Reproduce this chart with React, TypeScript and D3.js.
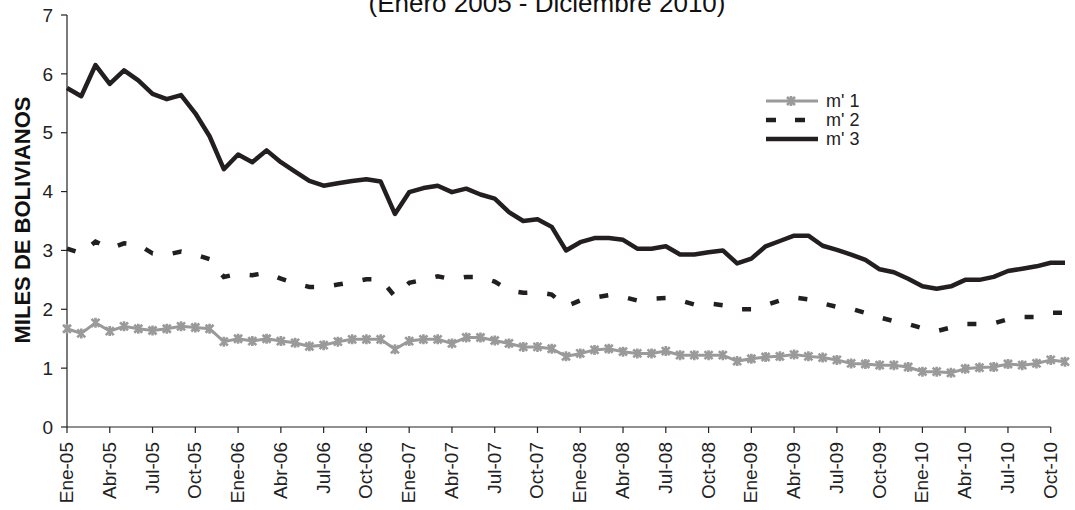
import React from "react";
import * as d3 from "d3";

const monthNames = ["Ene", "Feb", "Mar", "Abr", "May", "Jun", "Jul", "Ago", "Sep", "Oct", "Nov", "Dic"];
const years = ["05", "06", "07", "08", "09", "10"];
const categories = years.flatMap((y) => monthNames.map((m) => `${m}-${y}`)).slice(0, 71);

const tickLabels = [
  "Ene-05", "Abr-05", "Jul-05", "Oct-05", "Ene-06", "Abr-06", "Jul-06", "Oct-06",
  "Ene-07", "Abr-07", "Jul-07", "Oct-07", "Ene-08", "Abr-08", "Jul-08", "Oct-08",
  "Ene-09", "Abr-09", "Jul-09", "Oct-09", "Ene-10", "Abr-10", "Jul-10", "Oct-10",
];

const yTicks = [0, 1, 2, 3, 4, 5, 6, 7];

const m1 = [
  1.67, 1.59, 1.77, 1.63, 1.71, 1.67, 1.64, 1.67, 1.71, 1.69, 1.67, 1.45,
  1.50, 1.46, 1.50, 1.46, 1.43, 1.37, 1.39, 1.45, 1.49, 1.49, 1.49, 1.32,
  1.46, 1.49, 1.49, 1.42, 1.52, 1.52, 1.47, 1.42, 1.36, 1.36, 1.33, 1.20,
  1.25, 1.31, 1.33, 1.28, 1.25, 1.25, 1.29, 1.22, 1.22, 1.22, 1.22, 1.12,
  1.16, 1.19, 1.20, 1.23, 1.20, 1.18, 1.14, 1.08, 1.07, 1.05, 1.05, 1.02,
  0.94, 0.94, 0.92, 0.99, 1.01, 1.02, 1.07, 1.05, 1.08, 1.14, 1.11,
];

const m2 = [
  3.03, 2.95, 3.15, 3.03, 3.12, 3.10, 2.95, 2.93, 2.98, 2.93, 2.85, 2.55,
  2.60, 2.58, 2.62, 2.52, 2.44, 2.38, 2.38, 2.42, 2.46, 2.51, 2.51, 2.22,
  2.45, 2.50, 2.56, 2.51, 2.55, 2.55, 2.47, 2.32, 2.28, 2.29, 2.25, 2.05,
  2.15, 2.20, 2.24, 2.21, 2.15, 2.18, 2.19, 2.15, 2.08, 2.10, 2.07, 2.00,
  2.00, 2.07, 2.15, 2.20, 2.17, 2.10, 2.04, 2.01, 1.94, 1.86, 1.80, 1.75,
  1.68, 1.63, 1.69, 1.75, 1.75, 1.76, 1.83, 1.87, 1.87, 1.94, 1.94,
];

const m3 = [
  5.76, 5.62, 6.15, 5.83, 6.06, 5.89, 5.66, 5.57, 5.64, 5.33, 4.94, 4.38,
  4.63, 4.50, 4.70, 4.50, 4.34, 4.18, 4.10, 4.14, 4.18, 4.21, 4.17, 3.62,
  3.99, 4.06, 4.10, 3.99, 4.05, 3.95, 3.88, 3.65, 3.50, 3.53, 3.40, 3.00,
  3.14, 3.21, 3.21, 3.18, 3.03, 3.03, 3.07, 2.93, 2.93, 2.97, 3.00, 2.78,
  2.86, 3.07, 3.16, 3.25, 3.25, 3.08, 3.01, 2.93, 2.84, 2.68, 2.63, 2.52,
  2.39, 2.35, 2.39, 2.50, 2.50, 2.55, 2.65, 2.69, 2.73, 2.79, 2.79,
];

const seriesNames = ["m' 1", "m' 2", "m' 3"];

const FONT = "'Liberation Sans', Arial, Helvetica, sans-serif";
const GRAY = "#9a9a9a";
const DARK = "#231f20";

const starPath = "M-4,-4L4,4M-4,4L4,-4M0,-5L0,5";

export default function App() {
  const x = d3.scalePoint<string>().domain(categories).range([67, 1065]);
  const y = d3.scaleLinear().domain([0, 7]).range([427, 15]);

  const line = d3
    .line<number>()
    .x((_, i) => x(categories[i]) as number)
    .y((d) => y(d));

  const axisEnd = x(tickLabels[tickLabels.length - 1]) as number;
  const x0 = x(categories[0]) as number;

  const legendY = [101, 120, 139];

  return (
    <svg
      width={1075}
      height={510}
      style={{ position: "absolute", left: 0, top: 0, background: "#fff" }}
      fontFamily={FONT}
    >
      <rect width={1075} height={510} fill="#fff" />
      <text x={547} y={12} textAnchor="middle" fontSize={26} fill="#111">
        (Enero 2005 - Diciembre 2010)
      </text>

      <text
        transform={`translate(30,220) rotate(-90)`}
        textAnchor="middle"
        fontWeight="bold"
        fontSize={22}
        fill="#111"
      >
        MILES DE BOLIVIANOS
      </text>

      {/* y axis */}
      <line x1={x0} x2={x0} y1={y(7)} y2={y(0)} stroke="#222" strokeWidth={1.2} />
      {yTicks.map((t) => (
        <g key={t}>
          <line x1={x0 - 6} x2={x0} y1={y(t)} y2={y(t)} stroke="#222" strokeWidth={1.2} />
          <text x={53} y={y(t)} dy="0.35em" textAnchor="end" fontSize={19} fill="#222">
            {t}
          </text>
        </g>
      ))}

      {/* x axis */}
      <line x1={x0} x2={axisEnd} y1={y(0)} y2={y(0)} stroke="#222" strokeWidth={1.2} />
      {tickLabels.map((lab) => {
        const xx = x(lab) as number;
        return (
          <g key={lab}>
            <line x1={xx} x2={xx} y1={y(0)} y2={y(0) + 6} stroke="#222" strokeWidth={1.2} />
            <text
              transform={`translate(${xx + 6},442) rotate(-90)`}
              textAnchor="end"
              fontSize={19}
              fill="#222"
            >
              {lab}
            </text>
          </g>
        );
      })}

      {/* series m'1 */}
      <path d={line(m1) || ""} fill="none" stroke={GRAY} strokeWidth={3} />
      {m1.map((v, i) => (
        <path
          key={i}
          d={starPath}
          transform={`translate(${x(categories[i])},${y(v)})`}
          fill="none"
          stroke={GRAY}
          strokeWidth={2.6}
        />
      ))}

      {/* series m'2 */}
      <path
        d={line(m2) || ""}
        fill="none"
        stroke={DARK}
        strokeWidth={4.5}
        strokeDasharray="9 20"
      />

      {/* series m'3 */}
      <path d={line(m3) || ""} fill="none" stroke={DARK} strokeWidth={4.5} strokeLinejoin="round" />

      {/* legend */}
      <g>
        <line x1={766} x2={818} y1={legendY[0]} y2={legendY[0]} stroke={GRAY} strokeWidth={3} />
        <path d={starPath} transform={`translate(791,${legendY[0]})`} fill="none" stroke={GRAY} strokeWidth={2.6} />
        <line
          x1={766}
          x2={818}
          y1={legendY[1]}
          y2={legendY[1]}
          stroke={DARK}
          strokeWidth={4.5}
          strokeDasharray="10 19"
        />
        <line x1={766} x2={818} y1={legendY[2]} y2={legendY[2]} stroke={DARK} strokeWidth={4.5} />
        {seriesNames.map((n, i) => (
          <text key={n} x={826} y={legendY[i]} dy="0.35em" fontSize={18} fill="#222">
            {n}
          </text>
        ))}
      </g>
    </svg>
  );
}
